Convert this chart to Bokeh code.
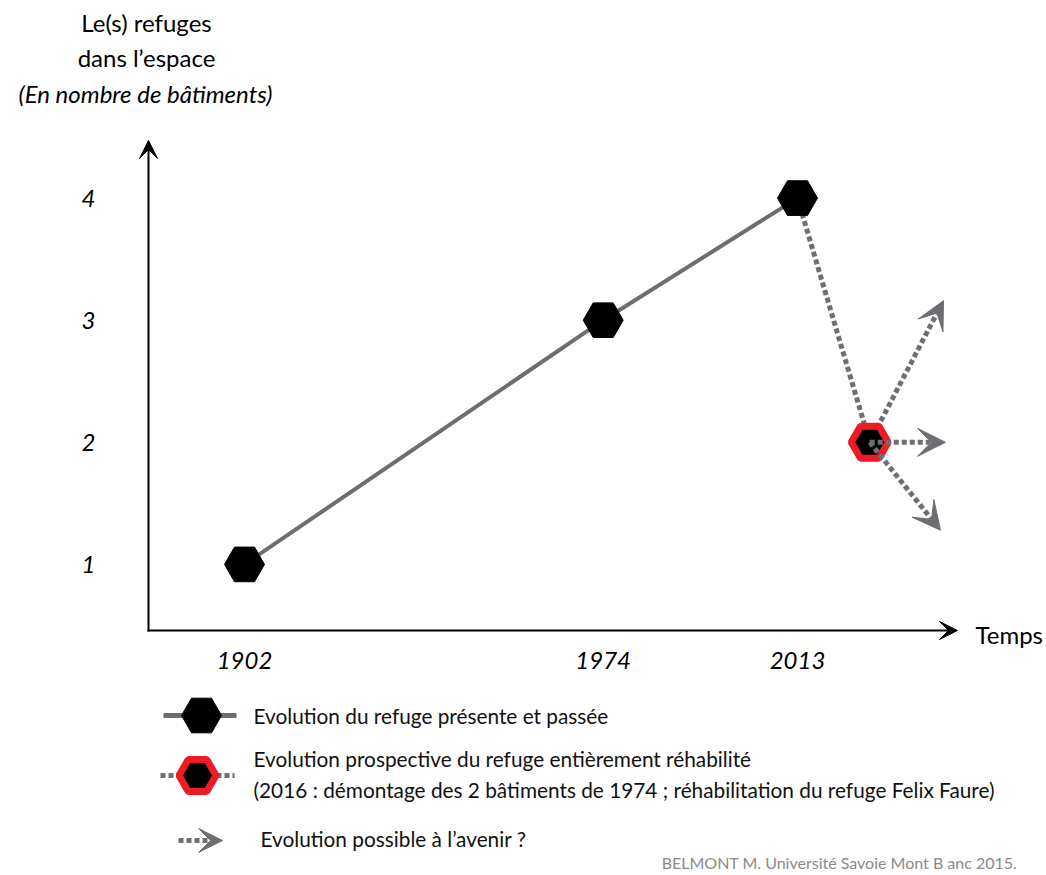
from bokeh.plotting import figure
from bokeh.models import Range1d, Arrow, VeeHead, ColumnDataSource
from bokeh.core.properties import value
from bokeh.embed import file_html
from bokeh.resources import INLINE

# ---------------- data ----------------
years = [1902, 1974, 2013]                 # past / present refuge states
year_labels = ["1902", "1974", "2013"]
buildings = [1, 3, 4]                      # number of buildings
prospect_year = [2027.5]                   # position of prospective point on time axis
prospect_buildings = [2]
future_end_x = [2042.3, 2042.7, 2041.7]    # "possible evolution" arrow tips
future_end_y = [3.16, 2.0, 1.28]
y_ticks = [1, 2, 3, 4]
y_tick_labels = ["1", "2", "3", "4"]

title_lines = ["Le(s) refuges", "dans l\u2019espace", "(En nombre de b\u00e2timents)"]
legend_texts = [
    "Evolution du refuge pr\u00e9sente et pass\u00e9e",
    "Evolution prospective du refuge enti\u00e8rement r\u00e9habilit\u00e9",
    "(2016 : d\u00e9montage des 2 b\u00e2timents de 1974 ; r\u00e9habilitation du refuge Felix Faure)",
    "Evolution possible \u00e0 l\u2019avenir ?",
]
credit = "BELMONT M.  Universit\u00e9 Savoie Mont B anc  2015."

# ---------------- layout helpers (pixel -> data) ----------------
W, H = 1046, 875
XS = 4.982          # px per year
YS = 122.1          # px per building


def xd(px):
    return 1902 + (px - 244) / XS


def yd(py):
    return 2.5 + (380.75 - py) / YS


FONT = "Lato"
GREY = "#6d6e71"
RED = "#ed1c24"

p = figure(width=W, height=H, output_backend="svg", toolbar_location=None,
           x_axis_type=None, y_axis_type=None, min_border=0,
           x_range=Range1d(xd(0), xd(W)), y_range=Range1d(yd(H), yd(0)))
p.grid.visible = False
p.outline_line_color = None
p.background_fill_color = "white"
p.border_fill_color = "white"

# ---------------- axes (arrows) ----------------
p.add_layout(Arrow(x_start=xd(148), y_start=yd(631), x_end=xd(148), y_end=yd(140),
                   line_color="black", line_width=2,
                   end=VeeHead(size=18, fill_color="black", line_color="black")))
p.add_layout(Arrow(x_start=xd(147), y_start=yd(630), x_end=xd(957), y_end=yd(630),
                   line_color="black", line_width=2,
                   end=VeeHead(size=18, fill_color="black", line_color="black")))

# ---------------- series ----------------
p.line(years, buildings, line_color=GREY, line_width=4)
p.line([years[-1], prospect_year[0]], [buildings[-1], prospect_buildings[0]],
       line_color=GREY, line_width=5, line_dash="5 3")

under = ColumnDataSource(dict(xs=prospect_year, ys=prospect_buildings,
                              xe=future_end_x[:1], ye=future_end_y[:1]))
over = ColumnDataSource(dict(xs=prospect_year * 2, ys=prospect_buildings * 2,
                             xe=future_end_x[1:], ye=future_end_y[1:]))
p.add_layout(Arrow(source=under, x_start="xs", y_start="ys", x_end="xe", y_end="ye",
                   line_color=GREY, line_width=5, line_dash="5 3", level="underlay",
                   end=VeeHead(size=28, fill_color=GREY, line_color=GREY, line_width=1)))

p.scatter(years, buildings, marker="hex", size=40, fill_color="black", line_color="black")
p.scatter(prospect_year, prospect_buildings, marker="hex", size=37,
          fill_color="black", line_color=RED, line_width=7)

p.add_layout(Arrow(source=over, x_start="xs", y_start="ys", x_end="xe", y_end="ye",
                   line_color=GREY, line_width=5, line_dash="5 3",
                   end=VeeHead(size=28, fill_color=GREY, line_color=GREY, line_width=1)))

# ---------------- tick labels ----------------
p.text(x=[xd(88)] * len(y_ticks), y=y_ticks, text=y_tick_labels,
       text_font=value(FONT), text_font_style="italic", text_font_size=value("24px"),
       text_align="center", text_baseline="middle", text_color="black")
p.text(x=years, y=[yd(660)] * len(years), text=year_labels,
       text_font=value(FONT), text_font_style="italic", text_font_size=value("24px"),
       text_align="center", text_baseline="middle", text_color="black")
p.text(x=[xd(975)], y=[yd(634)], text=["Temps"],
       text_font=value(FONT), text_font_size=value("24px"),
       text_align="left", text_baseline="middle", text_color="black")

# ---------------- y title ----------------
p.text(x=[xd(146)] * 2, y=[yd(22), yd(57)], text=title_lines[:2],
       text_font=value(FONT), text_font_size=value("24px"),
       text_align="center", text_baseline="middle", text_color="black")
p.text(x=[xd(145)], y=[yd(93)], text=title_lines[2:],
       text_font=value(FONT), text_font_style="italic", text_font_size=value("24px"),
       text_align="center", text_baseline="middle", text_color="black")

# ---------------- legend ----------------
p.line([xd(163), xd(236)], [yd(715), yd(715)], line_color=GREY, line_width=5)
p.scatter([xd(201)], [yd(715)], marker="hex", size=40, fill_color="black", line_color="black")
p.line([xd(160), xd(234)], [yd(775), yd(775)], line_color=GREY, line_width=5, line_dash="5 3")
p.scatter([xd(197)], [yd(775)], marker="hex", size=37, fill_color="black",
          line_color=RED, line_width=7)
p.add_layout(Arrow(x_start=xd(178), y_start=yd(840), x_end=xd(222), y_end=yd(840),
                   line_color=GREY, line_width=5, line_dash="5 3",
                   end=VeeHead(size=24, fill_color=GREY, line_color=GREY, line_width=1)))

p.text(x=[xd(253), xd(253), xd(253), xd(260)],
       y=[yd(715), yd(758), yd(789), yd(838)], text=legend_texts,
       text_font=value(FONT), text_font_size=value("20.8px"),
       text_align="left", text_baseline="middle", text_color="#111111")
p.text(x=[xd(1025)], y=[yd(862)], text=[credit],
       text_font=value(FONT), text_font_size=value("16px"),
       text_align="right", text_baseline="middle", text_color="#8a8a8a")

open("out.html", "w").write(file_html(p, INLINE))
